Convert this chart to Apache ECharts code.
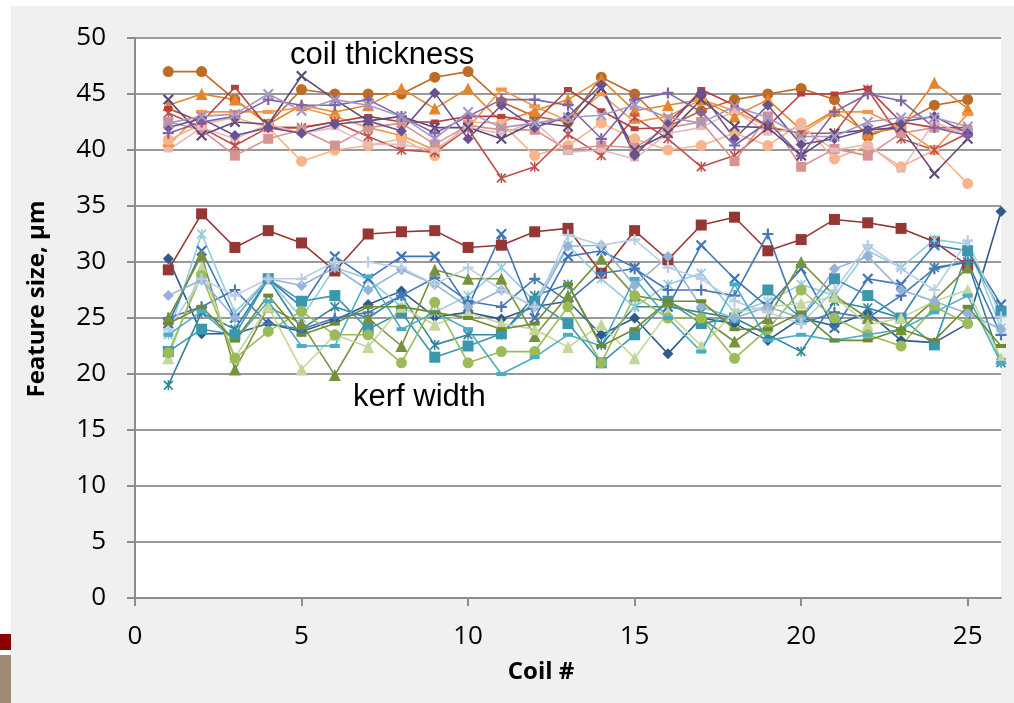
<!DOCTYPE html>
<html lang="en">
<head>
<meta charset="UTF-8">
<title>Feature size per coil</title>
<script src="https://cdn.jsdelivr.net/npm/echarts@6/dist/echarts.min.js"></script>
<style>
  html, body { margin: 0; padding: 0; background: #fff; }
  #main { width: 1014px; height: 703px; }
</style>
</head>
<body>
<div id="main"></div>
<script>
// coil numbers (x)
var coilNo = [1, 2, 3, 4, 5, 6, 7, 8, 9, 10, 11, 12, 13, 14, 15, 16, 17, 18, 19, 20, 21, 22, 23, 24, 25, 26];
var xTicks = [0, 5, 10, 15, 20, 25];
var yTicks = [0, 5, 10, 15, 20, 25, 30, 35, 40, 45, 50];

// coil thickness, um (coils 1..25)
var thkDarkOrange = [47, 47, 44.5, 42.3, 45.4, 45, 45, 45, 46.5, 47, 44.3, 43, 42.5, 46.5, 45, 42.1, 43.5, 44.5, 45, 45.5, 44.5, 41.2, 42.4, 44, 44.5];
var thkOrangeTri = [44, 45, 44.5, 42.3, 44, 43.4, 44, 45.5, 43.7, 45.5, 42.5, 43.5, 44.5, 46.3, 43.5, 44, 44.5, 43, 44.5, 41.8, 43.5, 41.5, 42, 46, 43.7];
var thkOrangeDash = [40.4, 43.4, 43.4, 43.4, 43.8, 43, 42, 41.3, 40, 42, 45.4, 43.9, 42.6, 45, 42.5, 43, 44.5, 43.5, 42.1, 41.5, 43.4, 43.4, 42, 40, 43.2];
var thkPeach = [40.9, 42.3, 42.9, 42, 39, 40, 40.4, 41, 39.5, 42.5, 42.4, 39.5, 40.4, 42.4, 41, 40, 40.4, 41.5, 40.4, 42.4, 39.2, 40.4, 38.5, 40, 37];
var thkRedStar = [43.3, 42, 40.4, 42, 42, 42.5, 41.2, 40, 39.8, 41.9, 37.5, 38.5, 41.4, 39.5, 42.9, 41, 38.5, 39.5, 42, 41.5, 41.5, 45.4, 41, 40, 41.5];
var thkRedDash = [43.7, 42.5, 45.6, 42, 42, 42.5, 43, 42.5, 42.5, 43, 43, 42.5, 45.4, 43.5, 41.9, 42, 45.4, 44, 42.1, 45, 45, 45.5, 42.5, 42, 42];
var thkPinkSq = [42.5, 41.8, 39.5, 41, 41.8, 40.4, 42, 42.4, 40.5, 42.2, 41.8, 41.8, 40, 40.4, 40.2, 42, 42.5, 39, 43, 38.5, 40.1, 39.5, 41.5, 42, 41.7];
var thkLightPink = [40, 42, 41, 42.3, 41.5, 42, 40.5, 40.5, 40, 42, 41.5, 42.5, 39.8, 40, 39.2, 41.5, 42, 43.5, 41.5, 42, 40, 40.5, 38.2, 42.5, 41.3];
var thkPurpleX = [44.5, 41.3, 42.5, 42.3, 46.6, 44.5, 42.6, 43, 42, 42, 41, 42.5, 42.1, 45.5, 40, 41.5, 44.5, 42.1, 42, 39.5, 41.5, 41.8, 42, 37.9, 41];
var thkPurpleDia = [42, 42.8, 41.3, 42, 41.5, 42.3, 42.6, 41.7, 45.1, 41, 44, 42, 43, 45.8, 39.5, 42.5, 45.1, 41, 44, 40.5, 41, 41.8, 42.5, 43, 41.5];
var thkPurplePlus = [41.5, 42.5, 43, 44.5, 44, 44, 44.5, 43, 41.5, 43, 44.5, 44.5, 44, 41, 44.5, 45.1, 43.4, 40.4, 42.5, 39.5, 43.4, 45, 44.4, 42, 41.3];
var thkLavenderX = [42.4, 43, 43.2, 45, 43.5, 44.5, 44, 43, 41, 43.4, 42, 42.4, 42.9, 43.1, 44, 42.9, 42.4, 43.9, 42.9, 41.2, 41.2, 42.5, 42.9, 42.9, 42.1];

// kerf width, um
var kerfRedSq = [29.3, 34.3, 31.3, 32.8, 31.7, 29.2, 32.5, 32.7, 32.8, 31.3, 31.5, 32.7, 33, 29, 32.8, 30.2, 33.3, 34, 31, 32, 33.8, 33.5, 33, 31.8, 29.7];
var kerfNavyDia = [30.3, 23.6, 23.6, 24.5, 23.8, 24.8, 26.2, 27.4, 25.1, 25.5, 24.9, 26, 26.5, 23.5, 25, 21.8, 25, 24.5, 23, 25, 24.3, 25.5, 23, 22.8, 24.5, 34.5];
var kerfTealStar = [19, 25.5, 24, 28.5, 24, 26, 25, 27, 22.6, 23.5, 23.5, 27, 28, 22.6, 26, 26, 25.5, 25, 23.5, 22, 26.5, 25.9, 25, 29.5, 30, 21];
var kerfLtCyanStar = [23.5, 32.5, 25.5, 28.5, 25, 29.5, 28.5, 26, 25.5, 27, 29.5, 26.5, 31.5, 28.5, 26, 28, 29, 25.5, 26.5, 28, 27, 31, 29.5, 32, 31.6, 24.1];
var kerfBlueX = [24.5, 31, 25, 28.5, 26, 30.5, 28.5, 30.5, 30.5, 26, 32.5, 25, 30.5, 31, 29.5, 26, 31.5, 28.5, 26, 29.4, 24.1, 28.5, 28, 31.5, 31, 26.2];
var kerfBluePlus = [25, 26, 27.5, 24.5, 24, 25, 25.5, 27, 28.6, 26.5, 26, 28.5, 26.5, 29, 29.4, 27.5, 27.5, 27, 32.5, 24.5, 25.5, 25, 27, 29.4, 30, 23.5];
var kerfTealSq = [22, 24, 23.5, 28.5, 26.5, 27, 24, 25.5, 21.5, 22.5, 23.6, 26.5, 24.5, 21, 23.5, 26.5, 24.5, 25, 27.5, 25, 28.5, 27, 25, 22.6, 31, 25.6];
var kerfGreenTri = [25, 30.6, 20.4, 26, 24.5, 19.9, 25, 22.5, 29.3, 28.5, 28.5, 23.4, 27, 30.3, 27, 26.5, 25, 22.9, 25, 30, 27, 25, 24, 26.6, 29.5];
var kerfLtGreenTri = [21.4, 29.5, 21.5, 26, 20.4, 23.5, 22.4, 26, 24.4, 25.5, 24.5, 24, 22.4, 24.4, 21.4, 25.5, 22.5, 25.5, 26, 26.3, 26.9, 24.4, 25, 26.5, 27.5, 21.4];
var kerfGreenCirc = [21.9, 28.8, 21.4, 23.8, 25.6, 23.5, 23.5, 21, 26.4, 21, 22, 22, 26, 21, 27, 25, 25, 21.4, 24, 27.5, 25, 23.5, 22.5, 26, 24.5];
var kerfLtBlueDia = [27, 28.4, 25, 28.5, 27.9, 29.5, 27.5, 29.3, 28, 26, 27.5, 26, 31.4, 31.5, 27.9, 30.5, 26, 25, 26, 25, 29.4, 30.5, 27.5, 26.5, 25.4, 24];
var kerfLavPlus = [24, 28.5, 27, 28.5, 28.5, 30, 30, 29.5, 28, 29.5, 27.5, 26, 32.4, 31.5, 32, 29.5, 28.5, 26.5, 25.5, 24.5, 27.5, 31.5, 29.4, 27.5, 31.9, 25.1];
var kerfCyanDash = [23.5, 25.6, 23, 26.5, 22.5, 22.5, 28.7, 24, 25.5, 24, 20, 21.5, 23.5, 22.5, 28.5, 25, 22, 28, 23, 23.5, 23, 23.5, 24, 25.5, 27, 21];
var kerfOliveDash = [24.5, 26, 23, 27, 23.5, 24.5, 26, 26, 25.5, 25, 24, 24.5, 28, 22.5, 24, 26.5, 26.5, 24, 24, 25.5, 23, 23, 24, 23, 26, 22.5];

var SYM_X = 'path://M1.4,0L5,3.6L8.6,0L10,1.4L6.4,5L10,8.6L8.6,10L5,6.4L1.4,10L0,8.6L3.6,5L0,1.4Z';
var SYM_PLUS = 'path://M4,0H6V4H10V6H6V10H4V6H0V4H4Z';
var SYM_STAR = 'path://M1.2,0L4.3,3.1V0H5.7V3.1L8.8,0L10,1.2L6.2,5L10,8.8L8.8,10L5.7,6.9V10H4.3V6.9L1.2,10L0,8.8L3.8,5L0,1.2Z';

function mk(name, values, color, symbol, size) {
  return {
    type: 'line',
    name: name,
    data: values.map(function (v, i) { return [coilNo[i], v]; }),
    symbol: symbol,
    symbolSize: size,
    showSymbol: true,
    lineStyle: { color: color, width: 1.6 },
    itemStyle: { color: color },
    emphasis: { disabled: true }
  };
}

var seriesList = [
  mk('thk1', thkDarkOrange, '#BD6B25', 'circle', 11),
  mk('thk2', thkOrangeTri, '#E4862E', 'triangle', 12),
  mk('thk3', thkOrangeDash, '#F79646', 'rect', [11, 4]),
  mk('thk4', thkPeach, '#F9B48A', 'circle', 11),
  mk('thk5', thkRedStar, '#C0504D', SYM_STAR, 10),
  mk('thk6', thkRedDash, '#B43F3C', 'rect', [8, 5]),
  mk('thk7', thkPinkSq, '#D59391', 'rect', 10),
  mk('thk8', thkLightPink, '#E6BAB8', 'rect', [9, 5]),
  mk('thk9', thkPurpleX, '#5F497A', SYM_X, 11),
  mk('thk10', thkPurpleDia, '#6A5290', 'diamond', 11),
  mk('thk11', thkPurplePlus, '#7F63A6', SYM_PLUS, 11),
  mk('thk12', thkLavenderX, '#A597C6', SYM_X, 11),

  mk('kerf1', kerfRedSq, '#953735', 'rect', 11),
  mk('kerf2', kerfNavyDia, '#2F5B8C', 'diamond', 11),
  mk('kerf3', kerfTealStar, '#31859C', SYM_STAR, 10),
  mk('kerf4', kerfLtCyanStar, '#93CDDD', SYM_STAR, 10),
  mk('kerf5', kerfBlueX, '#3F74B8', SYM_X, 11),
  mk('kerf6', kerfBluePlus, '#4677B6', SYM_PLUS, 11),
  mk('kerf7', kerfTealSq, '#3A97AE', 'rect', 11),
  mk('kerf8', kerfGreenTri, '#76923C', 'triangle', 12),
  mk('kerf9', kerfLtGreenTri, '#C3D69B', 'triangle', 12),
  mk('kerf10', kerfGreenCirc, '#9BBB59', 'circle', 11),
  mk('kerf11', kerfLtBlueDia, '#95B3D7', 'diamond', 11),
  mk('kerf12', kerfLavPlus, '#B9CDE5', SYM_PLUS, 11),
  mk('kerf13', kerfCyanDash, '#4BACC6', 'rect', [10, 4]),
  mk('kerf14', kerfOliveDash, '#6E8A34', 'rect', [10, 4])
];

var myChart = echarts.init(document.getElementById('main'));

var option = {
  animation: false,
  backgroundColor: '#F0F0F0',
  grid: {
    left: 135, right: 13, top: 38, bottom: 105,
    show: true, backgroundColor: '#ffffff', borderWidth: 0
  },
  xAxis: {
    type: 'value', min: 0, max: 26, interval: 5,
    axisLine: { show: true, lineStyle: { color: '#8C8C8C', width: 2 } },
    axisTick: { show: true, inside: false, length: 8, lineStyle: { color: '#8C8C8C', width: 2 } },
    axisLabel: {
      margin: 26, color: '#000', fontFamily: 'Open Sans', fontSize: 26,
      showMaxLabel: false,
      formatter: function (v) { return xTicks.indexOf(v) >= 0 ? String(v) : ''; }
    },
    splitLine: { show: false }
  },
  yAxis: {
    type: 'value', min: 0, max: 50, interval: 5,
    axisLine: { show: true, lineStyle: { color: '#8C8C8C', width: 2 } },
    axisTick: { show: true, inside: false, length: 8, lineStyle: { color: '#8C8C8C', width: 2 } },
    axisLabel: {
      margin: 29, color: '#000', fontFamily: 'Open Sans', fontSize: 26,
      formatter: function (v) { return yTicks.indexOf(v) >= 0 ? String(v) : ''; }
    },
    splitLine: { show: true, lineStyle: { color: '#9A9A9A', width: 2 } }
  },
  graphic: [
    { type: 'rect', left: 0, top: 0, shape: { width: 11, height: 703 }, style: { fill: '#ffffff' }, silent: true },
    { type: 'rect', left: 0, top: 0, shape: { width: 1014, height: 6 }, style: { fill: '#ffffff' }, silent: true },
    { type: 'rect', left: 0, top: 634, shape: { width: 11, height: 16 }, style: { fill: '#8B0000' }, silent: true },
    { type: 'rect', left: 0, top: 655, shape: { width: 11, height: 48 }, style: { fill: '#A08A73' }, silent: true },
    { type: 'text', x: 290, y: 55, style: { text: 'coil thickness', font: '31px "Liberation Sans"', fill: '#000', textVerticalAlign: 'middle' }, z: 100 },
    { type: 'text', x: 353, y: 397, style: { text: 'kerf width', font: '31px "Liberation Sans"', fill: '#000', textVerticalAlign: 'middle' }, z: 100 },
    { type: 'text', x: 541, y: 672, style: { text: 'Coil #', font: 'bold 24px "Open Sans"', fill: '#000', textAlign: 'center', textVerticalAlign: 'middle' } },
    { type: 'text', x: 37, y: 299, rotation: Math.PI / 2, style: { text: 'Feature size, µm', font: 'bold 24px "Open Sans"', fill: '#000', textAlign: 'center', textVerticalAlign: 'middle' } }
  ],
  series: seriesList
};

myChart.setOption(option);
</script>
</body>
</html>
